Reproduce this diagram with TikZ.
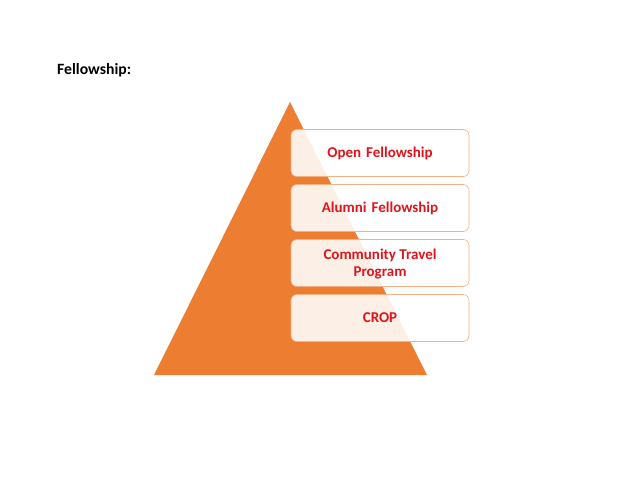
\documentclass[tikz,border=0pt]{standalone}
\usepackage{fontspec}
\setmainfont{Carlito}
\definecolor{pyrorange}{HTML}{ED7D31}
\definecolor{boxborder}{HTML}{F4B183}
\definecolor{txtred}{HTML}{E0141C}
\begin{document}
\begin{tikzpicture}[x=1pt,y=-1pt,
  boxtext/.style={font=\bfseries\fontsize{15}{17}\selectfont, text=txtred, align=center, inner sep=0pt},
  levelbox/.style={draw=boxborder, line width=0.6pt, fill=white, fill opacity=0.88, text opacity=1,
    rounded corners=6pt, minimum width=178pt, minimum height=47pt, text width=170pt, boxtext}]
\useasboundingbox (0,0) rectangle (638,493);
\fill[pyrorange] (290,102) coordinate (apex) -- (427,375) coordinate (br) -- (154,375) coordinate (bl) -- cycle;
\node[anchor=base west, inner sep=0pt, font=\bfseries\fontsize{15.7}{17}\selectfont] (title) at (57,74) {Fellowship:};
\node[levelbox] (b1) at (380,153) {Open Fellowship};
\node[levelbox] (b2) at (380,208) {Alumni Fellowship};
\node[levelbox] (b3) at (380,263) {};
\node[boxtext] (b3text) at ([yshift=-1.5pt]b3.center) {Community Travel\\Program};
\node[levelbox] (b4) at (380,318) {CROP};
\end{tikzpicture}
\end{document}
